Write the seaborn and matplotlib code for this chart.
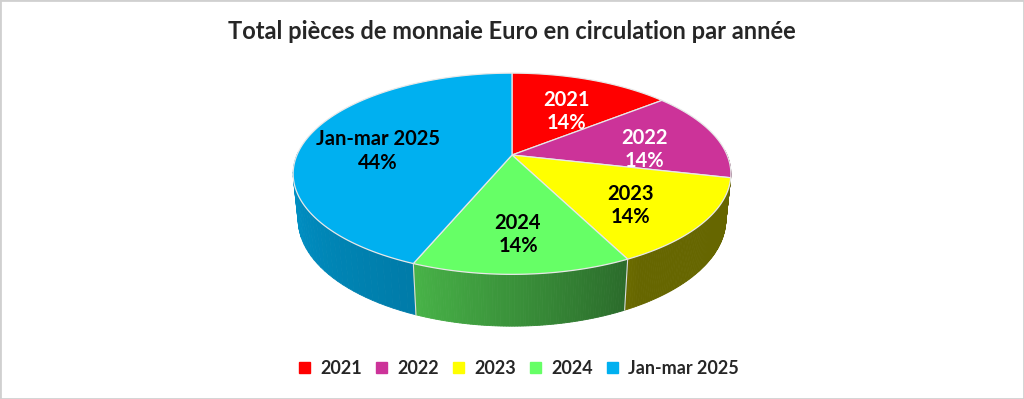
import numpy as np
import pandas as pd
import matplotlib.pyplot as plt
import seaborn as sns
from matplotlib.patches import Polygon, Rectangle

# data
categories = ["2021", "2022", "2023", "2024", "Jan-mar 2025"]
shares = [14.2, 14.4, 14.0, 13.6, 43.8]

top_colors = ["#ff0000", "#cc3399", "#ffff00", "#66ff66", "#00b0f0"]
text_colors = ["white", "white", "black", "black", "black"]

sns.set_theme(style="white")
plt.rcParams['font.family'] = ['Lato', 'DejaVu Sans']

df = pd.DataFrame({"cat": categories, "share": shares})
df["frac"] = df["share"] / df["share"].sum()
df["end"] = 90 - 360 * df["frac"].cumsum()
df["start"] = df["end"] + 360 * df["frac"]

# camera for the 3d look
elev = np.radians(26.85)
s, c = np.sin(elev), np.cos(elev)
D, F, h = 4.79, 1030.0, 0.24
cx, cy = 512, 155


def project(x, y, z=0.0):
    zc = D + y * c - z * s
    return cx + F * x / zc, cy - F * (y * s + z * c) / zc, zc


def wall_shade(color, t):
    u = (t % 360) - 180
    k = np.interp(u, [0, 68, 120, 180], [0.85, 0.70, 0.40, 0.40])
    rgb = np.array(plt.matplotlib.colors.to_rgb(color))
    return np.clip(rgb * k, 0, 1)


fig = plt.figure(figsize=(10.24, 3.99), dpi=100)
ax = fig.add_axes([0, 0, 1, 1])
ax.set_xlim(0, 1024)
ax.set_ylim(399, 0)
ax.axis('off')

# side walls, far pieces first
quads = []
for i, row in df.iterrows():
    ts = np.linspace(row["start"], row["end"], 80)
    for t0, t1 in zip(ts[:-1], ts[1:]):
        tm = np.radians((t0 + t1) / 2)
        if np.sin(tm) > 0.05:
            continue
        pts = []
        for t, z in [(t0, 0), (t1, 0), (t1, -h), (t0, -h)]:
            r = np.radians(t)
            x, y, _ = project(np.cos(r), np.sin(r), z)
            pts.append((x, y))
        _, _, depth = project(np.cos(tm), np.sin(tm), -h / 2)
        quads.append((depth, pts, wall_shade(top_colors[i], (t0 + t1) / 2)))
for depth, pts, col in sorted(quads, key=lambda q: -q[0]):
    ax.add_patch(Polygon(pts, closed=True, facecolor=col, edgecolor=col, lw=0.6))

# light seams on the wall at slice borders
for t in df["end"]:
    r = np.radians(t)
    if np.sin(r) < -0.25:
        x0, y0, _ = project(np.cos(r), np.sin(r), 0)
        x1, y1, _ = project(np.cos(r), np.sin(r), -h)
        ax.plot([x0, x1], [y0, y1], color="#dddddd", lw=0.8)

# top face
for i, row in df.iterrows():
    ts = np.radians(np.linspace(row["start"], row["end"], 120))
    pts = [project(0, 0)[:2]] + [project(np.cos(t), np.sin(t))[:2] for t in ts]
    ax.add_patch(Polygon(pts, closed=True, facecolor=top_colors[i],
                         edgecolor="#e8e8e8", lw=0.9))

# slice labels
for i, row in df.iterrows():
    mid = np.radians((row["start"] + row["end"]) / 2)
    x, y, _ = project(0.65 * np.cos(mid), 0.65 * np.sin(mid))
    ax.text(x, y + 8, f"{row['cat']}\n{round(row['share'])}%", ha="center",
            va="center", fontsize=14.5, fontweight="bold", color=text_colors[i],
            linespacing=1.2)

fig.suptitle("Total pièces de monnaie Euro en circulation par année",
             y=0.95, fontsize=17, fontweight="bold")

handles = [Rectangle((0, 0), 1, 1, color=col) for col in top_colors]
fig.legend(handles, categories, loc="center", bbox_to_anchor=(0.507, 0.077),
           ncol=5, frameon=False, handlelength=0.6, handleheight=0.6,
           columnspacing=0.75, handletextpad=0.6,
           prop={"weight": "bold", "size": 13})

fig.patches.append(Rectangle((0, 0), 1, 1, transform=fig.transFigure,
                             fill=False, edgecolor="#d0d0d0", lw=2))

fig.savefig("out.png", dpi=100)
